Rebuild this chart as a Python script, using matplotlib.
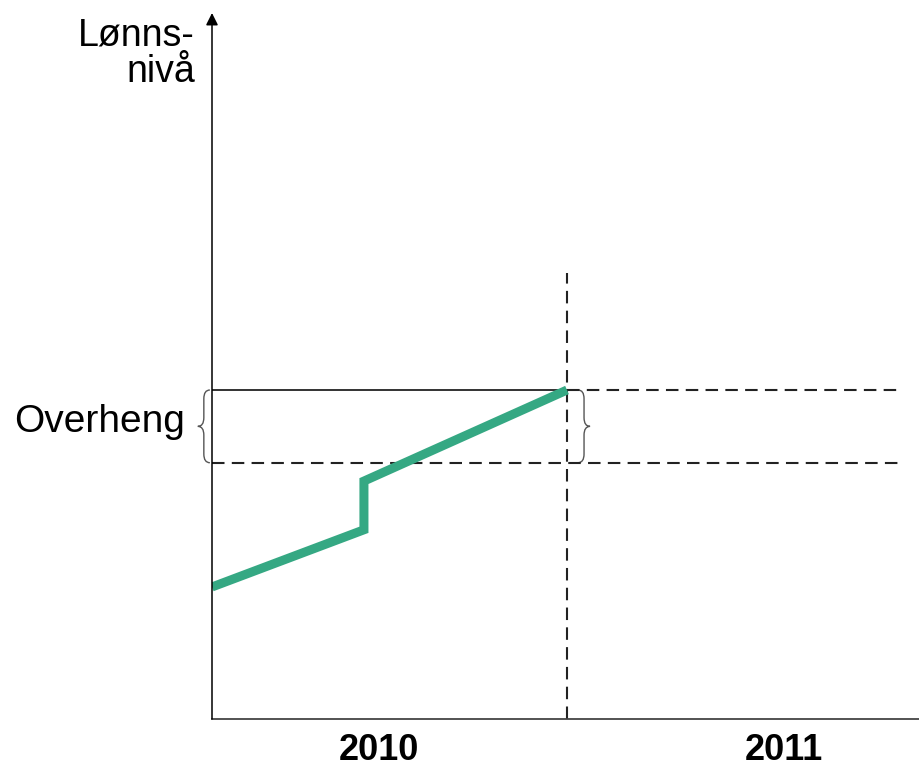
import matplotlib
matplotlib.use("Agg")
import matplotlib.pyplot as plt
import matplotlib.transforms as mtransforms
from matplotlib.path import Path
from matplotlib.patches import PathPatch

plt.rcParams['font.family'] = ['Liberation Sans', 'DejaVu Sans']

# Data (x: years since start of 2010, y: wage level, arbitrary units)
wage_x = [0.0, 0.428, 0.428, 1.0]
wage_y = [18.7, 26.8, 33.7, 46.6]
avg_level = 36.3      # average level for 2010
end_level = 46.6      # level at end of 2010
year_labels = ['2010', '2011']
year_label_x = [0.47, 1.61]

GREEN = '#35a883'
W, H = 920, 769


def brace(ax, xb, y0, y1, w, **kw):
    # curly brace with flat side at xb and point at xb + w
    ym = (y0 + y1) / 2
    c = (y1 - y0) * 0.12
    xm = xb + w / 2
    verts = [(xb, y0), (xm, y0), (xm, y0 + c), (xm, ym - c), (xm, ym), (xb + w, ym),
             (xm, ym), (xm, ym + c), (xm, y1 - c), (xm, y1), (xb, y1)]
    codes = [Path.MOVETO, Path.CURVE3, Path.CURVE3, Path.LINETO, Path.CURVE3, Path.CURVE3,
             Path.CURVE3, Path.CURVE3, Path.LINETO, Path.CURVE3, Path.CURVE3]
    ax.add_patch(PathPatch(Path(verts, codes), fill=False, clip_on=False, **kw))


fig = plt.figure(figsize=(W / 100, H / 100), dpi=100)
ax = fig.add_axes([212 / W, 50 / H, 708 / W, 706 / H])
ax.set_xlim(0, 708 / 355)
ax.set_ylim(0, 100)

for s in ['top', 'right', 'left']:
    ax.spines[s].set_visible(False)
ax.spines['bottom'].set_color('#444444')
ax.spines['bottom'].set_linewidth(1.3)
ax.set_yticks([])
ax.set_xticks([1.0])
ax.set_xticklabels([])
ax.tick_params(axis='x', direction='in', length=8, width=1.3, color='#333333')

# y axis arrow
ax.annotate('', xy=(0, 100), xytext=(0, 0), xycoords='data',
            arrowprops=dict(arrowstyle='-|>', color='black', lw=1.1,
                            mutation_scale=18, shrinkA=0, shrinkB=0),
            annotation_clip=False)

dash = (0, (6, 3.5))
ax.plot([0, 1.944], [avg_level, avg_level], color='#222222', lw=1.5, linestyle=dash)
ax.plot([0, 1.0], [end_level, end_level], color='#222222', lw=1.3)
ax.plot([1.0, 1.944], [end_level, end_level], color='#222222', lw=1.5, linestyle=dash)
ax.plot([1.0, 1.0], [0, 63.2], color='#222222', lw=1.5, linestyle=dash)

ax.plot(wage_x, wage_y, color=GREEN, lw=6.5, solid_joinstyle='miter', solid_capstyle='butt')

brace(ax, -0.006, avg_level, end_level, -0.034, color='#555555', lw=1.0)
brace(ax, 1.031, avg_level, end_level, 0.034, color='#555555', lw=1.0)

label_tr = mtransforms.blended_transform_factory(ax.transData, fig.transFigure)
for lbl, x in zip(year_labels, year_label_x):
    ax.text(x, 1 - 760 / H, lbl, transform=label_tr,
            ha='center', va='baseline', fontsize=26, fontweight='bold')

fig.text(195 / W, 1 - 18 / H, 'Lønns-\nnivå', ha='right', va='top',
         multialignment='right', fontsize=27, linespacing=1.0)
fig.text(185 / W, 1 - 432 / H, 'Overheng', ha='right', va='baseline', fontsize=28)

fig.savefig('out.png', dpi=100)
